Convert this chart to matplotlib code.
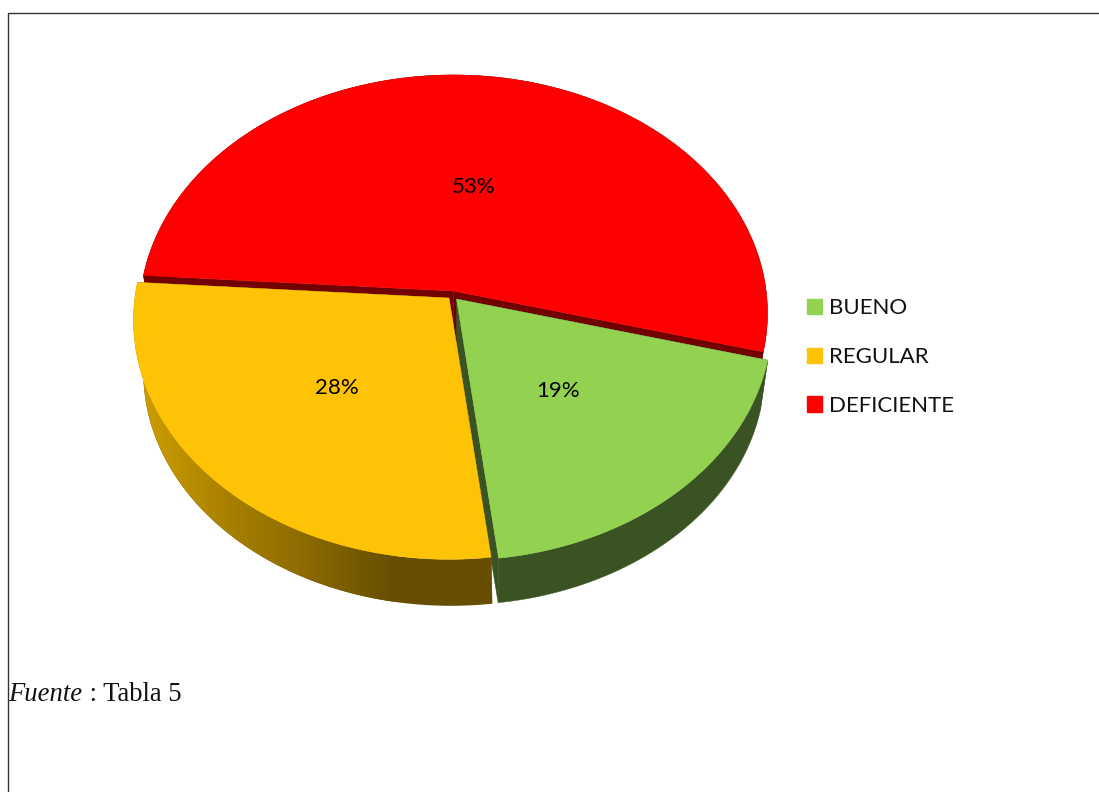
import numpy as np
from matplotlib import pyplot as plt
from matplotlib.colors import LinearSegmentedColormap
from matplotlib.patches import Patch, Polygon

names = ['BUENO', 'REGULAR', 'DEFICIENTE']
shares = [19, 28, 53]
top_colors = ['#93D250', '#FFC305', '#FF0000']
wall_colors = ['#3A5322', '#664D00', '#720000']

# the red slice runs counter clockwise from here, then yellow, then green
start_angle = -14.6
persp = -0.0924
rx = 312.6
ry = 236.0
lower_scale = 0.975

wall_shade = LinearSegmentedColormap.from_list('wall', [(0, '#D0A000'), (0.36, '#A88000'), (0.63, '#8F6D00'),
                                                        (1, '#664D00')])


def project(theta, apex, scale=1.0):
    """
    maps a point of the unit circle on to the tilted disc
    :param theta: angle in degrees, counter clockwise
    :param apex: pixel position of the disc centre
    :param scale: size factor of the disc
    :return: x, y arrays
    """
    t = np.radians(theta)
    u = np.cos(t)
    v = -np.sin(t)
    w = 1 + persp*v
    return apex[0] + scale*rx*u/w, apex[1] + scale*ry*v/w


def draw_slice(ax, a0, a1, apex, lower_apex, top_scale, top_color, wall_color, shaded=False):
    theta = np.linspace(a0, a1, 200)
    xt, yt = project(theta, apex, top_scale)
    xb, yb = project(theta, lower_apex, top_scale*lower_scale)

    # radial walls
    for i in [0, -1]:
        pts = [apex, (xt[i], yt[i]), (xb[i], yb[i]), lower_apex]
        ax.add_patch(Polygon(pts, closed=True, fc=wall_color, ec=wall_color, lw=0.3))

    # outer wall, shaded from left to right on the yellow slice
    pts = list(zip(xt, yt)) + list(zip(xb[::-1], yb[::-1]))
    if shaded:
        wall = Polygon(pts, closed=True, fc='none', ec='none')
        ax.add_patch(wall)
        img = ax.imshow(np.linspace(0, 1, 256).reshape(1, -1), cmap=wall_shade, aspect='auto',
                        extent=(135, 395, 620, 300), interpolation='bilinear', zorder=2)
        img.set_clip_path(wall)
        # past the end of the ramp the wall stays at its darkest
        flat = Polygon(pts, closed=True, fc=wall_color, ec='none', zorder=1.5)
        ax.add_patch(flat)
        ax.set_xlim(0, 1099)
        ax.set_ylim(792, 0)
    else:
        ax.add_patch(Polygon(pts, closed=True, fc=wall_color, ec=wall_color, lw=0.3))

    # top face
    pts = [apex] + list(zip(xt, yt))
    ax.add_patch(Polygon(pts, closed=True, fc=top_color, ec=top_color, lw=0.3, zorder=3))


def main():
    fig = plt.figure(figsize=(10.99, 7.92), dpi=100)
    ax = fig.add_axes([0, 0, 1, 1])
    ax.set_xlim(0, 1099)
    ax.set_ylim(792, 0)
    ax.axis('off')

    #angles of each slice from the shares
    sweep = [s/sum(shares)*360 for s in shares]
    red0 = start_angle
    red1 = red0 + sweep[2]
    yel1 = red1 + sweep[1]
    grn1 = yel1 + sweep[0]

    #back to front: red, then green, then yellow
    draw_slice(ax, red0, red1, (453.5, 291), (454, 343), 1.0, top_colors[2], wall_colors[2])
    draw_slice(ax, yel1, grn1, (456.5, 299), (457, 350), 1.005, top_colors[0], wall_colors[0])
    draw_slice(ax, red1, yel1, (449, 298), (451, 351), 1.005, top_colors[1], wall_colors[1], shaded=True)

    #percent labels
    font = ['Lato', 'DejaVu Sans']
    ax.text(474, 187, '%d%%' % shares[2], ha='center', va='center', fontsize=16, family=font, color='black', zorder=5)
    ax.text(337, 388, '%d%%' % shares[1], ha='center', va='center', fontsize=16, family=font, color='black', zorder=5)
    ax.text(558, 391, '%d%%' % shares[0], ha='center', va='center', fontsize=16, family=font, color='black', zorder=5)

    handles = [Patch(fc=c, ec=c, label=n) for c, n in zip(top_colors, names)]
    ax.legend(handles=handles, loc='center left', bbox_to_anchor=(807/1099, 1-357/792), frameon=False,
              prop={'family': font, 'size': 16}, handlelength=0.68, handleheight=0.68,
              handletextpad=0.33, labelspacing=1.3, borderpad=0, borderaxespad=0, labelcolor='#111111')

    #page frame
    ax.plot([8, 8, 1099], [792, 13, 13], color='#333333', lw=1, solid_joinstyle='miter')

    #source note, italic part then the rest
    fuente = ax.text(8.5, 701, 'Fuente', family='Liberation Serif', style='italic', fontsize=19.2, color='#111111',
                     ha='left', va='baseline', zorder=5)
    ax.annotate(' : Tabla 5', xy=(1, 0), xycoords=fuente, xytext=(0, 0), textcoords='offset points',
                family='Liberation Serif', fontsize=19.2, color='#111111', ha='left', va='bottom', zorder=5)

    fig.savefig('out.png', dpi=100)


main()
